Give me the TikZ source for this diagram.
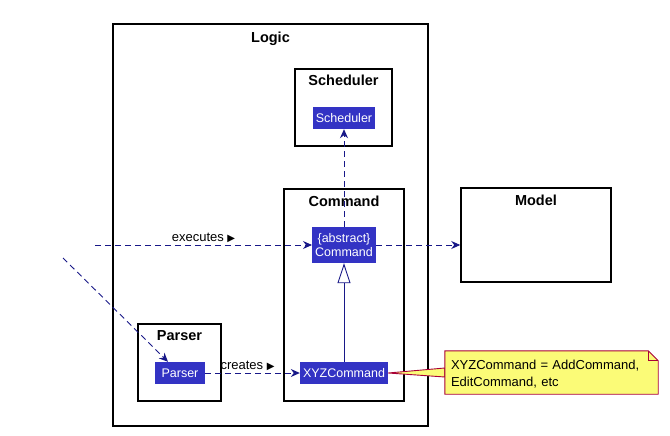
\documentclass[tikz,border=0pt]{standalone}
\usepackage{fontspec}
\setmainfont{Liberation Sans}
\newfontfamily\symfont{DejaVu Sans}
\usetikzlibrary{arrows.meta,positioning,shapes,calc}
\definecolor{umlblue}{RGB}{51,51,196}
\definecolor{umlline}{RGB}{24,24,136}
\definecolor{notefill}{RGB}{251,251,119}
\definecolor{noteline}{RGB}{168,0,54}
\newcommand{\tri}{{\symfont\fontsize{10}{10}\selectfont ▶}}
\tikzset{
    pkg/.style={draw=black, line width=1.5pt, fill=white, inner sep=0pt},
    pkgtitle/.style={font=\fontsize{14.5}{16}\selectfont\bfseries, inner sep=1pt},
    cls/.style={fill=umlblue, text=white, font=\fontsize{12.5}{14}\selectfont,
        inner xsep=3pt, inner ysep=0pt, minimum height=22pt, align=center},
    dep/.style={umlline, line width=0.9pt, dash pattern=on 6pt off 4pt,
        -{Stealth[length=9pt,width=8pt,inset=3pt]}},
    lbl/.style={text=black, font=\fontsize{13}{15}\selectfont, inner sep=2pt},
    notebox/.style={font=\fontsize{13}{17}\selectfont, align=left, text width=201pt,
        inner sep=6pt, minimum width=213pt, minimum height=43pt}
}

\begin{document}
\begin{tikzpicture}[x=1pt, y=-1pt]
    \useasboundingbox (0,0) rectangle (670,436);

    % Packages
    \node[pkg, minimum width=315pt, minimum height=402pt] (logic) at (270.5,225) {};
    \node[pkgtitle, below=8pt of logic.north] (logictitle) {Logic};

    \node[pkg, minimum width=97pt, minimum height=77pt] (sched) at (343.5,107.5) {};
    \node[pkgtitle, below=6pt of sched.north] (schedtitle) {Scheduler};

    \node[pkg, minimum width=120pt, minimum height=212pt] (cmd) at (344,295) {};
    \node[pkgtitle, below=7pt of cmd.north] (cmdtitle) {Command};

    \node[pkg, minimum width=83pt, minimum height=77pt] (parser) at (179.5,362.5) {};
    \node[pkgtitle, below=6pt of parser.north] (parsertitle) {Parser};

    \node[pkg, minimum width=150pt, minimum height=94pt] (model) at (536,235) {};
    \node[pkgtitle, below=7pt of model.north] (modeltitle) {Model};

    % Classes
    \node[cls] (schedcls) at (344,118) {Scheduler};
    \node[cls, minimum height=36pt, font=\fontsize{12.5}{13.5}\selectfont] (abscmd) at (344,245) {\{abstract\}\\Command};
    \node[cls] (xyzcmd) at (344,373) {XYZCommand};
    \node[cls, minimum width=50pt] (parsercls) at (180,373) {Parser};

    % Connectors
    \coordinate (user) at (63,258);
    \coordinate (exec) at (95,245);
    \draw[dep] (exec) -- (abscmd.west) node[lbl, midway, above] {executes \tri};
    \draw[dep] (user) -- ($(parsercls.north)+(-12,0)$);
    \draw[dep] (parsercls.east) -- (xyzcmd.west) node[lbl, midway, above, xshift=-5pt] {creates \tri};
    \draw[dep] (abscmd.north) -- (schedcls.south);
    \draw[dep] (abscmd.east) -- (abscmd.east -| model.west);
    \draw[umlline, line width=0.9pt, {Triangle[open, length=20pt, width=13pt]}-] (abscmd.south) -- (xyzcmd.north);

    % Note
    \node[notebox] (note) at (551.5,372.5) {};
    \filldraw[fill=notefill, draw=noteline, line width=0.9pt]
        (xyzcmd.east) -- ($(note.west)+(0,-4.5)$) -- ($(note.west)+(0,4.5)$) -- cycle;
    \filldraw[fill=notefill, draw=noteline, line width=0.9pt]
        (note.north west) -- ($(note.north east)+(-10,0)$) -- ($(note.north east)+(0,10)$)
        -- (note.south east) -- (note.south west) -- cycle;
    \draw[noteline, line width=0.9pt] ($(note.north east)+(-10,0)$) -- ($(note.north east)+(-10,10)$) -- ($(note.north east)+(0,10)$);
    \node[notebox, yshift=-2pt] (notetext) at (note) {XYZCommand = AddCommand,\\EditCommand, etc};
\end{tikzpicture}
\end{document}
